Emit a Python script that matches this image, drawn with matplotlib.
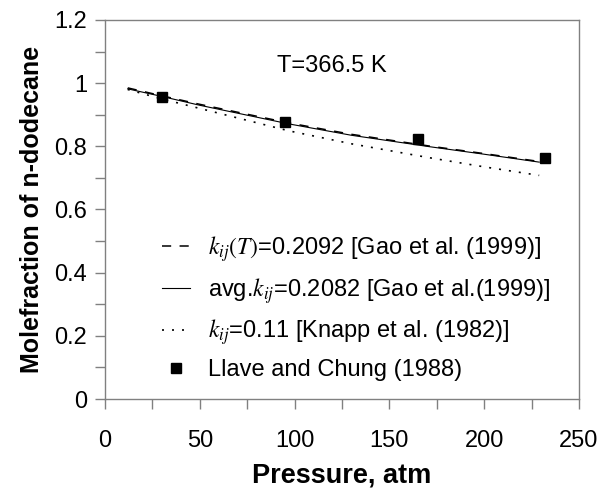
import matplotlib
matplotlib.use("Agg")
import matplotlib.pyplot as plt
from matplotlib.ticker import MultipleLocator

plt.rcParams['font.family'] = ['Liberation Sans', 'DejaVu Sans']
plt.rcParams['mathtext.fontset'] = 'stix'

# Model curves (pressure in atm, molefraction)
p_kijT = [12, 30, 50, 97, 130, 171, 200, 229]
x_kijT = [0.985, 0.960, 0.933, 0.874, 0.838, 0.801, 0.777, 0.752]

p_avg = [12, 30, 50, 97, 130, 171, 200, 229]
x_avg = [0.982, 0.958, 0.930, 0.871, 0.835, 0.799, 0.775, 0.750]

p_knapp = [12, 30, 50, 97, 130, 171, 200, 229]
x_knapp = [0.980, 0.950, 0.920, 0.849, 0.808, 0.764, 0.735, 0.708]

# Experimental data
p_exp = [30, 95, 165, 232]
x_exp = [0.955, 0.878, 0.822, 0.762]

labels = [r'$k_{ij}(T)$=0.2092 [Gao et al. (1999)]',
          r'avg.$k_{ij}$=0.2082 [Gao et al.(1999)]',
          r'$k_{ij}$=0.11 [Knapp et al. (1982)]',
          'Llave and Chung (1988)']

fig = plt.figure(figsize=(6.11, 4.92), dpi=100)
ax = fig.add_axes([105/611, 1 - 399/492, (579-105)/611, (399-20)/492])

ax.plot(p_kijT, x_kijT, color='black', lw=1.1, dashes=(6, 5.5), label=labels[0])
ax.plot(p_avg, x_avg, color='black', lw=0.8, label=labels[1])
ax.plot(p_knapp, x_knapp, color='black', lw=1.2, dashes=(1.2, 4.8), label=labels[2])
ax.plot(p_exp, x_exp, ls='none', marker='s', ms=7.5, color='black', label=labels[3])

ax.set_xlim(0, 250)
ax.set_ylim(0, 1.2)
ax.xaxis.set_major_locator(MultipleLocator(50))
ax.xaxis.set_minor_locator(MultipleLocator(25))
ax.yaxis.set_minor_locator(MultipleLocator(0.1))
ax.set_yticks([0, 0.2, 0.4, 0.6, 0.8, 1.0, 1.2])
ax.set_yticklabels(['0', '0.2', '0.4', '0.6', '0.8', '1', '1.2'])

for s in ax.spines.values():
    s.set_color('#808080')
    s.set_linewidth(1.0)
ax.tick_params(which='both', direction='out', length=7, width=1.0, color='#808080',
               labelsize=17)
ax.tick_params(axis='x', pad=15)
ax.tick_params(axis='y', pad=6)

ax.set_xlabel('Pressure, atm', fontsize=19.5, fontweight='bold', labelpad=8)
ax.set_ylabel('Molefraction of n-dodecane', fontsize=18, fontweight='bold', labelpad=7)

ax.text(119.5, 1.054, 'T=366.5 K', fontsize=17, ha='center', va='center')

leg = ax.legend(loc='upper left', bbox_to_anchor=(0.12, 0.435), frameon=False,
                fontsize=17, handlelength=1.2, handletextpad=0.76, labelspacing=0.5,
                borderaxespad=0, borderpad=0)

fig.savefig('out.png', dpi=100)
